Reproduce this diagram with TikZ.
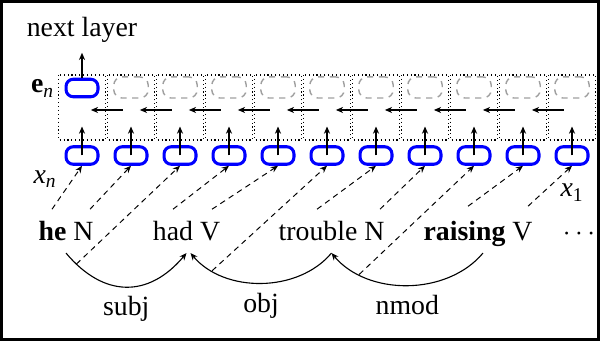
\documentclass[tikz,border=0pt]{standalone}
\usepackage{fontspec}
\setmainfont{Liberation Serif}
\usetikzlibrary{arrows.meta,calc}
\begin{document}
\begin{tikzpicture}[x=0.36pt, y=0.36pt,
  >={Stealth[length=2.6pt,width=2.2pt]},
  cell/.style={draw=blue, line width=1.1pt, rounded corners=2.6pt,
    minimum width=11.5pt, minimum height=6.3pt, inner sep=0pt},
  ghost/.style={cell, draw=gray!75, line width=0.5pt, minimum width=12.4pt,
    minimum height=7.6pt, rounded corners=3pt, dash pattern=on 2.2pt off 2pt},
  col/.style={densely dotted, line width=0.4pt},
  feed/.style={->, dash pattern=on 2pt off 1.6pt, line width=0.35pt},
  word/.style={anchor=base, inner sep=2.5pt, text depth=2pt},
  lbl/.style={inner sep=0pt},
  dep/.style={->, line width=0.4pt}]
  \useasboundingbox (0,0) rectangle (600,-341);
  \draw[line width=1.1pt] (1.5,-1.5) rectangle (598.5,-339.5);

  \foreach \i in {1,...,11} {
    \pgfmathsetmacro\cx{82+49*(\i-1)}
    \draw[col] (\cx-23.5,-75) rectangle (\cx+23.5,-140);
    \node[cell] (x\i) at (\cx,-155.5) {};
    \coordinate (h\i) at (\cx,-110);
    \draw[->] (x\i.center) -- ++(0,29);
  }
  \node[cell] (en) at (82,-88) {};
  \foreach \i in {2,...,11} {
    \pgfmathsetmacro\cx{82+49*(\i-1)}
    \node[ghost] (e\i) at (\cx,-87.5) {};
  }
  \foreach \i [count=\j from 2] in {1,...,10}
    \draw[->, shorten <=2.9pt, shorten >=3.2pt] (h\j) -- (h\i);

  \node[anchor=base] (next) at (82,-37) {next layer};
  \draw[->] (en.north) -- (en.north |- next.south);
  \node[lbl, anchor=base east] (enlbl) at (55,-93) {\textbf{e}\textsubscript{\textit{n}}};
  \node[lbl, anchor=base west] (xnlbl) at (33,-183) {\textit{x}\textsubscript{\textit{n}}};
  \node[lbl, anchor=base west] (x1lbl) at (560,-197) {\textit{x}\textsubscript{1}};

  \node[word] (heN) at (66,-240) {\textbf{he} N};
  \node[word] (hadV) at (186.5,-240) {had V};
  \node[word] (troubleN) at (331.5,-240) {trouble N};
  \node[word] (raisingV) at (478,-240) {\textbf{raising} V};
  \node[word] (more) at (579,-240) {$\cdots$};

  \draw[dep] (heN.south) to[out=-50, in=-130, looseness=1.25]
    coordinate[pos=0.09] (subjpt) node[midway, below] {subj} (hadV.south);
  \draw[dep] (troubleN.south) to[out=-130, in=-50, looseness=0.95]
    coordinate[pos=0.82] (objpt) node[midway, below] {obj} ($(hadV.south)+(4,0)$);
  \draw[dep] ($(raisingV.south)+(5,0)$) to[out=-130, in=-50, looseness=0.95]
    coordinate[pos=0.79] (nmodpt) node[midway, below] {nmod} (troubleN.south);

  \coordinate (s1) at ($(heN.north)+(-14,4)$);
  \coordinate (s2) at ($(heN.north)+(24,4)$);
  \coordinate (s3) at (subjpt);
  \coordinate (s4) at ($(hadV.north)+(-13.5,4)$);
  \coordinate (s5) at ($(hadV.north)+(25.5,4)$);
  \coordinate (s6) at (objpt);
  \coordinate (s7) at ($(troubleN.north)+(-14.5,4)$);
  \coordinate (s8) at ($(troubleN.north)+(48.5,4)$);
  \coordinate (s9) at (nmodpt);
  \coordinate (s10) at ($(raisingV.north)+(-10,7)$);
  \coordinate (s11) at ($(raisingV.north)+(50,7)$);
  \foreach \i in {1,...,11}
    \draw[feed] (s\i) -- (x\i.south);
\end{tikzpicture}
\end{document}
